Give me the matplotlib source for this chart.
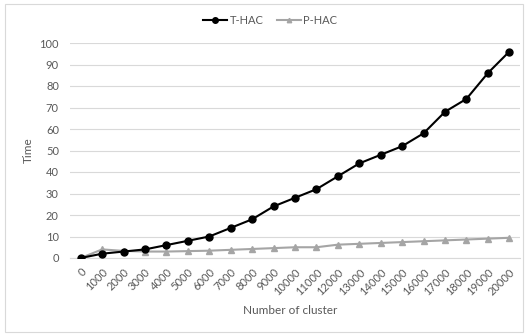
import matplotlib.pyplot as plt
from matplotlib.patches import Rectangle

plt.rcParams['font.family'] = ['Lato', 'DejaVu Sans']

clusters = ["0", "1000", "2000", "3000", "4000", "5000", "6000", "7000", "8000", "9000",
            "10000", "11000", "12000", "13000", "14000", "15000", "16000", "17000",
            "18000", "19000", "20000"]
t_hac = [0, 2, 3, 4, 6, 8, 10, 14, 18, 24, 28, 32, 38, 44, 48, 52, 58, 68, 74, 86, 96]
p_hac = [0, 4, 3.3, 3, 3, 3.2, 3.4, 3.8, 4.2, 4.6, 5, 5, 6.2, 6.6, 7, 7.4, 7.8, 8.2, 8.6, 9, 9.4]

txt = "#595959"
fig = plt.figure(figsize=(5.28, 3.35), dpi=100)
ax = fig.add_axes([70/528, 1 - 258/335, 450/528, 215/335])

x = range(len(clusters))
ax.plot(x, t_hac, color="black", lw=1.5, marker="o", ms=5, label="T-HAC", zorder=3)
ax.plot(x, p_hac, color="#a5a5a5", lw=1.5, marker="^", ms=4, label="P-HAC", zorder=2)

ax.set_xlim(-0.5, len(clusters) - 0.5)
ax.set_ylim(0, 100)
ax.set_yticks(range(0, 101, 10))
ax.set_xticks(list(x))
ax.set_xticklabels(clusters, rotation=45, ha="right", rotation_mode="anchor")
ax.tick_params(axis="both", length=0, colors=txt, labelsize=8)
ax.tick_params(axis="x", pad=6)
ax.tick_params(axis="y", pad=8)
ax.grid(axis="y", color="#d9d9d9", lw=0.8)
ax.set_axisbelow(True)
for s in ["top", "right", "left"]:
    ax.spines[s].set_visible(False)
ax.spines["bottom"].set_color("#d9d9d9")

ax.set_ylabel("Time", color=txt, fontsize=8.5)
ax.set_xlabel("Number of cluster", color=txt, fontsize=8.5)
ax.yaxis.set_label_coords(-0.08, 0.5)
ax.xaxis.set_label_coords(0.49, -0.22)

leg = fig.legend(loc="center", bbox_to_anchor=(270/528, 1 - 20/335), ncol=2,
                 frameon=False, fontsize=8, handlelength=2.2, columnspacing=1.2,
                 handletextpad=0.2, markerscale=0.8)
for t in leg.get_texts():
    t.set_color(txt)

fig.patches.append(Rectangle((5/528, 3/335), 518/528, 328/335, transform=fig.transFigure,
                             fill=False, edgecolor="#d9d9d9", lw=0.8))

fig.savefig("out.png", dpi=100)
